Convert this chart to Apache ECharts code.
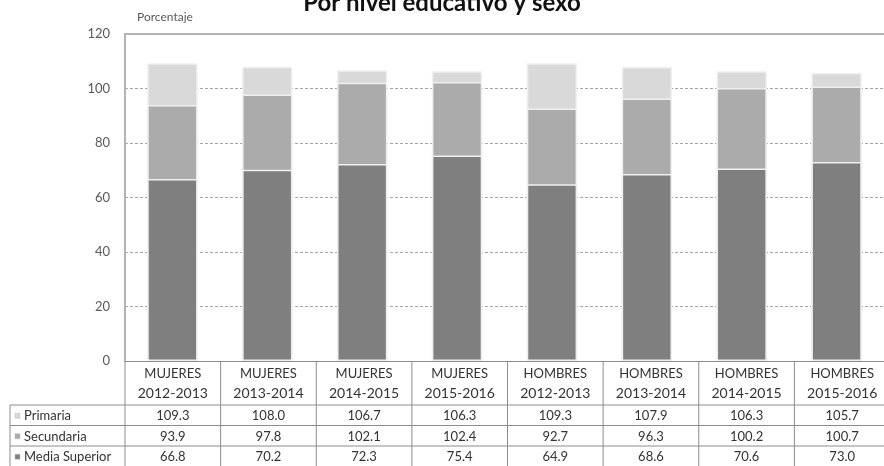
<!DOCTYPE html>
<html>
<head>
<meta charset="utf-8">
<script src="https://cdn.jsdelivr.net/npm/echarts@6/dist/echarts.min.js"></script>
<style>
  html, body { margin: 0; padding: 0; background: #fff; }
  #chart { width: 884px; height: 466px; }
</style>
</head>
<body>
<div id="chart"></div>
<script>
// data
var sexes = ['MUJERES', 'MUJERES', 'MUJERES', 'MUJERES', 'HOMBRES', 'HOMBRES', 'HOMBRES', 'HOMBRES'];
var periods = ['2012-2013', '2013-2014', '2014-2015', '2015-2016', '2012-2013', '2013-2014', '2014-2015', '2015-2016'];
var primaria = [109.3, 108.0, 106.7, 106.3, 109.3, 107.9, 106.3, 105.7];
var secundaria = [93.9, 97.8, 102.1, 102.4, 92.7, 96.3, 100.2, 100.7];
var mediaSuperior = [66.8, 70.2, 72.3, 75.4, 64.9, 68.6, 70.6, 73.0];
var yTicks = [0, 20, 40, 60, 80, 100, 120];

var seriesNames = ['Primaria', 'Secundaria', 'Media Superior'];
var seriesData = [primaria, secundaria, mediaSuperior];
var colors = ['#d9d9d9', '#ababab', '#7f7f7f'];

var gridLeft = 125, gridRight = -6, gridTop = 34, gridBottom = 105;
var W = 884, H = 466;
var font = 'Lato, "Open Sans", sans-serif';
var textColor = '#333';
var lineColor = '#8c8c8c';

var chart = echarts.init(document.getElementById('chart'));

// table below the plot, laid out on the same column grid as the x axis
function buildTable() {
    var g = [];
    var n = periods.length;
    var colW = (W - gridLeft - gridRight) / n;
    var y0 = H - gridBottom;            // zero line
    var headerBottom = y0 + 44;
    var rowH = 20.5;
    var tableLeft = 10;

    // vertical separators
    for (var i = 0; i <= n; i++) {
        var x = gridLeft + i * colW;
        g.push({ type: 'line', shape: { x1: x, y1: y0, x2: x, y2: H }, style: { stroke: lineColor, lineWidth: 1 }, silent: true });
    }
    g.push({ type: 'line', shape: { x1: tableLeft, y1: headerBottom, x2: tableLeft, y2: H }, style: { stroke: lineColor, lineWidth: 1 } });
    // horizontal lines
    for (var r = 0; r <= seriesNames.length; r++) {
        var yy = headerBottom + r * rowH;
        g.push({ type: 'line', shape: { x1: tableLeft, y1: yy, x2: W, y2: yy }, style: { stroke: lineColor, lineWidth: 1 } });
    }
    // header text
    for (var c = 0; c < n; c++) {
        var cx = gridLeft + (c + 0.5) * colW;
        g.push({ type: 'text', x: cx, y: y0 + 13, style: { text: sexes[c], font: '13px ' + font, fill: textColor, align: 'center', verticalAlign: 'middle' } });
        g.push({ type: 'text', x: cx, y: y0 + 32, style: { text: periods[c], font: '14px ' + font, fill: textColor, align: 'center', verticalAlign: 'middle' } });
    }
    // rows
    for (var s = 0; s < seriesNames.length; s++) {
        var cy = headerBottom + (s + 0.5) * rowH + 1;
        g.push({ type: 'rect', shape: { x: 15, y: cy - 3, width: 5, height: 5 }, style: { fill: colors[s], stroke: '#bbb', lineWidth: 0.5 } });
        g.push({ type: 'text', x: 24, y: cy, style: { text: seriesNames[s], font: '13px ' + font, fill: textColor, align: 'left', verticalAlign: 'middle' } });
        for (var k = 0; k < n; k++) {
            g.push({ type: 'text', x: gridLeft + (k + 0.5) * colW, y: cy, style: { text: seriesData[s][k].toFixed(1), font: '13px ' + font, fill: textColor, align: 'center', verticalAlign: 'middle' } });
        }
    }
    return g;
}

var series = seriesNames.map(function (name, i) {
    return {
        name: name,
        type: 'bar',
        data: seriesData[i],
        barWidth: '53%',
        barGap: '-100%',
        itemStyle: { color: colors[i], borderColor: '#efefef', borderWidth: 1.5 },
        silent: true
    };
});

chart.setOption({
    animation: false,
    title: {
        text: 'Por nivel educativo y sexo',
        left: 'center',
        top: -14,
        textStyle: { fontFamily: font, fontSize: 24, fontWeight: 'bold', color: '#111' }
    },
    grid: { left: gridLeft, right: gridRight, top: gridTop, bottom: gridBottom, containLabel: false },
    xAxis: [{
        type: 'category',
        data: periods.map(function (p, i) { return sexes[i] + ' ' + p; }),
        axisLine: { show: true, lineStyle: { color: lineColor, width: 1 } },
        axisTick: { show: false },
        axisLabel: { show: false }
    }, {
        type: 'category',
        position: 'top',
        data: periods,
        axisLine: { show: true, lineStyle: { color: '#b3b3b3', width: 2 } },
        axisTick: { show: false },
        axisLabel: { show: false }
    }],
    yAxis: {
        type: 'value',
        min: yTicks[0],
        max: yTicks[yTicks.length - 1],
        interval: 20,
        name: 'Porcentaje',
        nameLocation: 'end',
        nameGap: 11,
        nameTextStyle: { fontFamily: font, fontSize: 12, color: '#595959', align: 'left', padding: [0, 0, 0, 12] },
        axisLine: { show: true, lineStyle: { color: '#b3b3b3', width: 2 } },
        axisTick: { show: false },
        axisLabel: { fontFamily: font, fontSize: 13, color: '#595959', margin: 15 },
        splitLine: { show: true, lineStyle: { color: '#a6a6a6', type: [3, 2], width: 1 } }
    },
    series: series,
    graphic: buildTable()
});
</script>
</body>
</html>
